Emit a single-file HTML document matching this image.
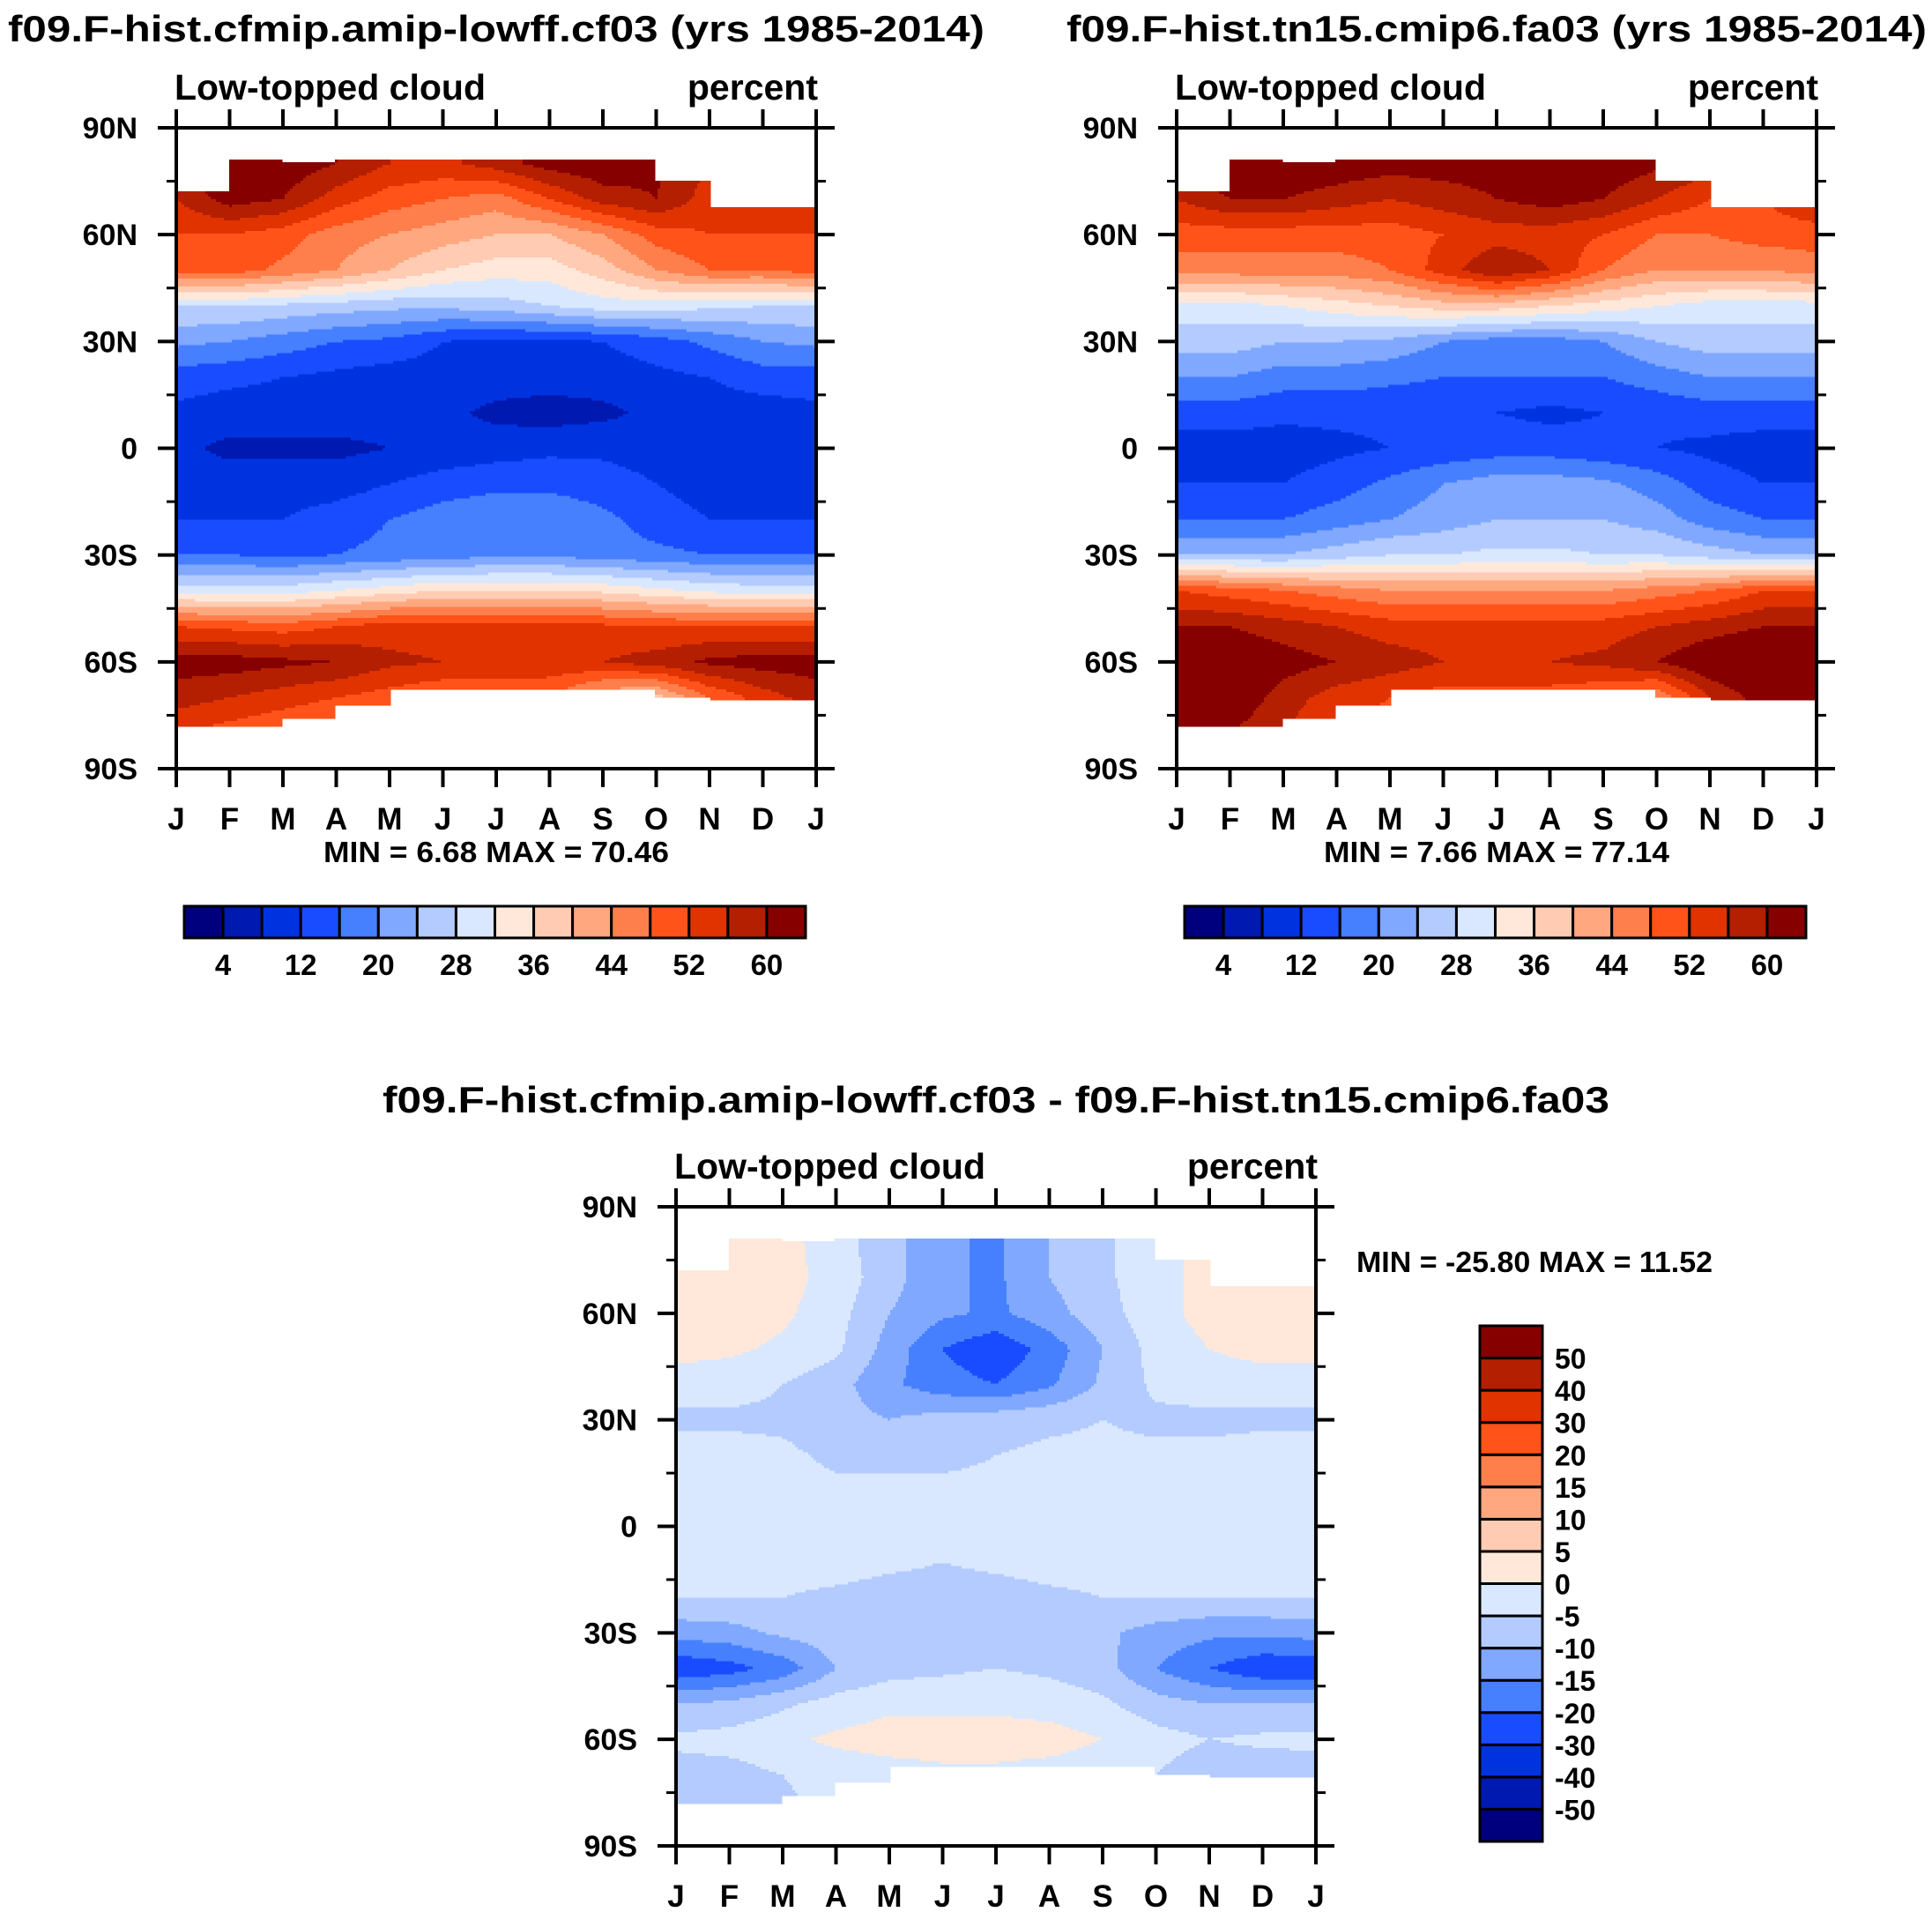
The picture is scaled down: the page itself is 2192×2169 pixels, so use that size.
<!DOCTYPE html>
<html><head><meta charset="utf-8">
<style>
html,body{margin:0;padding:0;background:#fff;}
svg{display:block;}
text{font-family:"Liberation Sans",Arial,sans-serif;font-weight:bold;fill:#000;}
</style></head>
<body>
<svg id="fig" width="2192" height="2169" viewBox="0 0 2192 2169" xmlns="http://www.w3.org/2000/svg">
<rect x="0" y="0" width="2192" height="2169" fill="#fff"/>
<text x="563" y="47" font-size="42" text-anchor="middle" textLength="1108" lengthAdjust="spacingAndGlyphs">f09.F-hist.cfmip.amip-lowff.cf03 (yrs 1985-2014)</text>
<text x="1698" y="47" font-size="42" text-anchor="middle" textLength="976" lengthAdjust="spacingAndGlyphs">f09.F-hist.tn15.cmip6.fa03 (yrs 1985-2014)</text>
<text x="1130" y="1262" font-size="42" text-anchor="middle" textLength="1392" lengthAdjust="spacingAndGlyphs">f09.F-hist.cfmip.amip-lowff.cf03 - f09.F-hist.tn15.cmip6.fa03</text>
<g id="plots"></g>
</svg>
<script>
// ---- data ----
const months = ['J','F','M','A','M','J','J','A','S','O','N','D','J'];
const lats = [80,70,60,50,40,30,20,10,0,-10,-20,-30,-40,-50,-60,-70,-80];
const yTickLabels = ['90N','60N','30N','0','30S','60S','90S'];
const absLevelLabels = ['4','12','20','28','36','44','52','60'];
const diffLevels = [-50,-40,-30,-20,-15,-10,-5,0,5,10,15,20,30,40,50];
const palette = ['#00007f','#0019b0','#0033e0','#1a4cff','#4780ff','#80a8ff','#b3cbff','#d9e8ff','#ffe8d9','#ffcbb3','#ffa880','#ff7f4c','#ff5319','#e03300','#b31f00','#870000'];
const northLimit = [72,81,80,81,81,81,81,81,81,75,67.5,67.5];
const southLimit = [-78,-78,-76,-72,-68,-68,-68,-68,-68,-70,-71,-71];
const cf03 = [
[62,64,63,60,56,55,58,62,63,61,56,55],
[56,62,60,54,50,48,46,52,58,60,54,54],
[52,52,50,46,44,42,40,40,44,50,52,52],
[50,50,47,44,40,36,34,34,38,44,48,48],
[28,28,27,26,25,25,26,28,30,30,29,28],
[21,20,18,16,15,12,11,11,12,14,17,20],
[14,13,12,11,10,10,10,10,10,11,12,14],
[11,10,10,10,10,9,7,6,7,9,10,10],
[9,7,7,7,8,9,10,11,11,10,9,9],
[10,10,10,10,12,14,15,15,14,12,10,10],
[12,12,12,14,16,18,19,19,17,14,12,12],
[16,16,15,16,17,18,19,19,18,17,16,16],
[30,30,30,32,34,36,36,36,35,33,31,30],
[52,51,50,52,54,54,54,54,53,52,52,52],
[62,62,61,60,57,56,56,55,56,58,61,62],
[58,56,54,52,50,48,48,48,40,38,48,54],
[52,50,48,46,44,44,44,44,40,38,44,50]];
const fa03 = [
[62,64,64,63,62,62,62,62,63,61,58,56],
[56,60,60,58,56,58,60,62,60,56,52,52],
[50,50,50,50,50,52,54,54,52,48,48,50],
[46,46,46,46,48,54,60,56,48,44,44,44],
[30,30,32,34,36,38,38,36,34,32,30,30],
[26,26,24,24,23,20,18,18,20,24,26,26],
[20,20,18,18,17,16,16,16,16,18,20,20],
[14,14,13,13,13,13,12,11,12,13,14,14],
[10,10,10,11,12,13,14,14,13,12,11,10],
[12,12,12,14,17,20,22,22,21,18,14,12],
[16,16,16,18,20,22,24,24,24,22,18,16],
[24,24,24,26,28,28,29,29,28,28,26,24],
[52,50,48,46,44,44,44,44,44,46,48,52],
[60,60,58,56,54,54,54,54,54,56,58,60],
[64,64,62,60,58,56,56,56,57,60,64,66],
[64,64,58,54,52,50,50,50,48,44,56,62],
[60,60,56,52,50,48,48,48,46,44,52,58]];
const diff = [
[2,2,2,-3,-8,-14,-16,-10,-6,-2,2,2],
[3,3,2,-2,-8,-14,-16,-10,-6,-2,2,4],
[4,3,1,-3,-10,-14,-16,-12,-7,-2,2,4],
[2,1,-1,-4,-12,-20,-24,-18,-10,-3,0,2],
[-3,-3,-5,-8,-14,-18,-20,-16,-9,-4,-3,-3],
[-6,-6,-6,-8,-10,-8,-7,-6,-5,-6,-6,-6],
[-3,-3,-4,-6,-6,-6,-5,-4,-4,-4,-4,-3],
[-3,-3,-3,-4,-4,-4,-4,-4,-3,-3,-3,-3],
[-2,-2,-2,-3,-3,-4,-5,-5,-5,-4,-3,-2],
[-3,-3,-3,-3,-4,-5,-4,-3,-3,-3,-3,-3],
[-5,-5,-5,-6,-7,-7,-7,-6,-5,-5,-5,-5],
[-13,-12,-9,-7,-7,-7,-7,-7,-9,-12,-14,-14],
[-24,-22,-18,-10,-7,-6,-5,-6,-8,-15,-20,-24],
[-10,-9,-6,-3,-1,-1,-1,-2,-4,-8,-10,-10],
[-4,-3,-1,1,2,2,2,2,0,-3,-5,-4],
[-7,-7,-5,-3,-2,-1,-1,-2,-3,-5,-8,-8],
[-8,-8,-6,-4,-3,-2,-2,-3,-4,-6,-9,-9]];

const NS = 'http://www.w3.org/2000/svg';
const root = document.getElementById('plots');
function mk(tag, attrs, parent){const e=document.createElementNS(NS,tag);for(const k in attrs)e.setAttribute(k,attrs[k]);(parent||root).appendChild(e);return e;}

function sample(grid, mx, lat){
  let la = Math.max(-80, Math.min(80, lat));
  let r = (80 - la) / 10; let r0 = Math.min(15, Math.floor(r)); let fr = r - r0;
  let c0 = Math.floor(mx); let fc = mx - c0;
  let a = grid[r0][c0 % 12], b = grid[r0][(c0+1) % 12];
  let c = grid[r0+1][c0 % 12], d = grid[r0+1][(c0+1) % 12];
  return (a*(1-fc)+b*fc)*(1-fr) + (c*(1-fc)+d*fc)*fr;
}
function absClass(v){return Math.max(0, Math.min(15, Math.floor(v/4)));}
function diffClass(v){let k=0;for(const l of diffLevels) if(v>=l) k++;return k;}

function drawPlot(name, x0, y0, W, H, grid, classify){
  const g = mk('g', {});
  
  
  const xScale = m => x0 + m * W / 12;
  const yScale = lat => y0 + (90 - lat) * H / 180;
  const cell = 3, nx = Math.round(W / cell), ny = Math.round(H / cell);
  const cw = W / nx, ch = H / ny;
  const fill = mk('g', {'shape-rendering':'crispEdges'}, g);
  
  
  for (let j = 0; j < ny; j++) {
    const lat = 90 - (j + 0.5) * 180 / ny;
    let runStart = 0, runCol = null;
    for (let i = 0; i <= nx; i++) {
      let col = null;
      if (i < nx) {
        const mx = (i + 0.5) * 12 / nx;
        const seg = Math.min(11, Math.floor(mx));
        if (lat <= northLimit[seg] && lat >= southLimit[seg]) col = palette[classify(sample(grid, mx, lat))];
      }
      if (col !== runCol) {
        if (runCol !== null) {
          const r = mk('rect', {x:(x0 + runStart*cw).toFixed(1), y:(y0 + j*ch).toFixed(1), width:((i-runStart)*cw+0.6).toFixed(1), height:(ch+0.6).toFixed(1), fill:runCol}, fill);
          
          
        }
        runStart = i; runCol = col;
      }
    }
  }
  const fr = mk('rect', {x:x0, y:y0, width:W, height:H, fill:'none', stroke:'#000', 'stroke-width':4}, g);
  
  
  for (let m = 0; m <= 12; m++) {
    const x = xScale(m);
    const t1 = mk('line', {x1:x, y1:y0, x2:x, y2:y0-21, stroke:'#000', 'stroke-width':4}, g);
    
    
    const t2 = mk('line', {x1:x, y1:y0+H, x2:x, y2:y0+H+21, stroke:'#000', 'stroke-width':4}, g);
    
    
    const tl = mk('text', {x:x, y:y0+H+69, 'font-size':35, 'text-anchor':'middle'}, g);
    tl.textContent = months[m];
    
    
  }
  for (let lat = 90; lat >= -90; lat -= 15) {
    const y = yScale(lat), major = (lat % 30 === 0), L = major ? 21 : 11;
    const a = mk('line', {x1:x0, y1:y, x2:x0-L, y2:y, stroke:'#000', 'stroke-width':major?4:3}, g);
    
    
    const b = mk('line', {x1:x0+W, y1:y, x2:x0+W+L, y2:y, stroke:'#000', 'stroke-width':major?4:3}, g);
    
    
  }
  yTickLabels.forEach((s, k) => {
    const t = mk('text', {x:x0-44, y:yScale(90-30*k)+12, 'font-size':34, 'text-anchor':'end'}, g);
    t.textContent = s;
    
    
  });
  const s1 = mk('text', {x:x0-2, y:y0-32, 'font-size':41}, g);
  s1.textContent = 'Low-topped cloud';
  
  
  const s2 = mk('text', {x:x0+W+2, y:y0-32, 'font-size':41, 'text-anchor':'end'}, g);
  s2.textContent = 'percent';
  
  
}

function hColorbar(name, x0, y0, W, H){
  const g = mk('g', {});
  
  
  const bw = W / 16;
  palette.forEach((c, k) => {
    const r = mk('rect', {x:x0+k*bw, y:y0, width:bw, height:H, fill:c, stroke:'#000', 'stroke-width':3}, g);
    
    
  });
  absLevelLabels.forEach((s, k) => {
    const t = mk('text', {x:x0+(1+2*k)*bw, y:y0+H+42, 'font-size':33, 'text-anchor':'middle'}, g);
    t.textContent = s;
    
    
  });
}
function vColorbar(name, x0, y0, W, H){
  const g = mk('g', {});
  
  
  const bh = H / 16;
  palette.forEach((c, k) => {
    const r = mk('rect', {x:x0, y:y0+(15-k)*bh, width:W, height:bh, fill:c, stroke:'#000', 'stroke-width':3}, g);
    
    
  });
  diffLevels.forEach((l, k) => {
    const t = mk('text', {x:x0+W+14, y:y0+(15-k)*bh+12, 'font-size':32}, g);
    t.textContent = String(l);
    
    
  });
}
function label(txt, x, y, anchor, name, len){
  const t = mk('text', {x:x, y:y, 'font-size':33, 'text-anchor':anchor, textLength:len, lengthAdjust:'spacingAndGlyphs'});
  t.textContent = txt;
  
  
}

drawPlot('left-contour-plot', 200, 145, 726, 727, cf03, absClass);
drawPlot('right-contour-plot', 1335, 145, 726, 727, fa03, absClass);
drawPlot('difference-contour-plot', 767, 1369, 726, 725, diff, diffClass);
label('MIN =   6.68 MAX =  70.46', 563, 978, 'middle', 'left-min-max', 392);
label('MIN =   7.66 MAX =  77.14', 1698, 978, 'middle', 'right-min-max', 392);
label('MIN = -25.80 MAX =  11.52', 1539, 1443, 'start', 'difference-min-max', 404);
hColorbar('left-colorbar', 209, 1028, 705, 36);
hColorbar('right-colorbar', 1344, 1028, 705, 36);
vColorbar('difference-colorbar', 1679, 1504, 71, 585);
</script>
</body></html>
